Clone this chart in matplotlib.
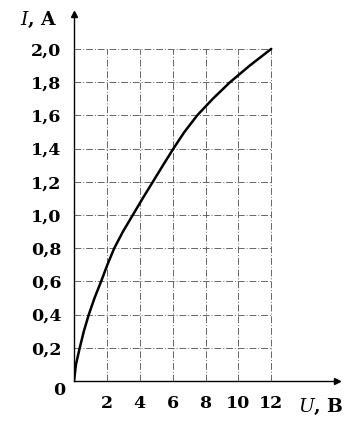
import matplotlib
matplotlib.use("Agg")
import matplotlib.pyplot as plt

plt.rcParams["mathtext.fontset"] = "dejavuserif"

# Data (current I in A vs voltage U in V)
I_vals = [0.0, 0.1, 0.2, 0.3, 0.4, 0.5, 0.6, 0.7, 0.8, 0.9, 1.0,
          1.1, 1.2, 1.3, 1.4, 1.5, 1.6, 1.7, 1.8, 1.9, 2.0]
U_vals = [0.0, 0.12, 0.35, 0.6, 0.9, 1.25, 1.65, 2.03, 2.45, 2.98, 3.58,
          4.18, 4.8, 5.42, 6.05, 6.72, 7.5, 8.45, 9.5, 10.7, 12.0]
x_ticks = [2, 4, 6, 8, 10, 12]
y_ticks = [0.2, 0.4, 0.6, 0.8, 1.0, 1.2, 1.4, 1.6, 1.8, 2.0]
y_tick_labels = ["0,2", "0,4", "0,6", "0,8", "1,0", "1,2", "1,4", "1,6", "1,8", "2,0"]
x_tick_labels = ["2", "4", "6", "8", "10", "12"]

W, H = 358, 423
fig = plt.figure(figsize=(W / 100, H / 100), dpi=100)
ax = fig.add_axes([74 / W, (H - 381) / H, 263 / W, 367 / H])
ax.set_xlim(0, 16.0)
ax.set_ylim(0, 2.21)

font = dict(family="DejaVu Serif", size=12.5, weight="bold")

# grid (dash-dot)
grid_kw = dict(color="0.4", linewidth=0.7, linestyle=(0, (7, 2, 1, 2)))
ax.hlines(y_ticks, 0, max(x_ticks), **grid_kw)
ax.vlines(x_ticks, 0, max(y_ticks), **grid_kw)

# curve
ax.plot(U_vals, I_vals, color="black", linewidth=1.8,
        solid_capstyle="round", solid_joinstyle="round")

for s in ["top", "right"]:
    ax.spines[s].set_visible(False)
for s in ["left", "bottom"]:
    ax.spines[s].set_linewidth(1.0)

# axis arrows
ax.plot(1, 0, marker=">", color="black", markersize=5, transform=ax.transAxes, clip_on=False)
ax.plot(0, 1, marker="^", color="black", markersize=5, transform=ax.transAxes, clip_on=False)

ax.set_xticks(x_ticks)
ax.set_xticklabels(x_tick_labels, fontdict=font)
ax.set_yticks(y_ticks)
ax.set_yticklabels(y_tick_labels, fontdict=font)
ax.tick_params(axis="both", length=0)
ax.tick_params(axis="y", pad=9)
ax.tick_params(axis="x", pad=10)

# origin label
ax.text(-0.55, -0.055, "0", ha="right", va="center", fontdict=font)

# axis labels
ax.text(-1.0, 2.175, "$I$, A", ha="right", va="center",
        fontsize=13.5, family="DejaVu Serif", weight="bold")
ax.text(13.6, -0.155, "$U$, B", ha="left", va="center",
        fontsize=13.5, family="DejaVu Serif", weight="bold")

fig.savefig("out.png", dpi=100)
